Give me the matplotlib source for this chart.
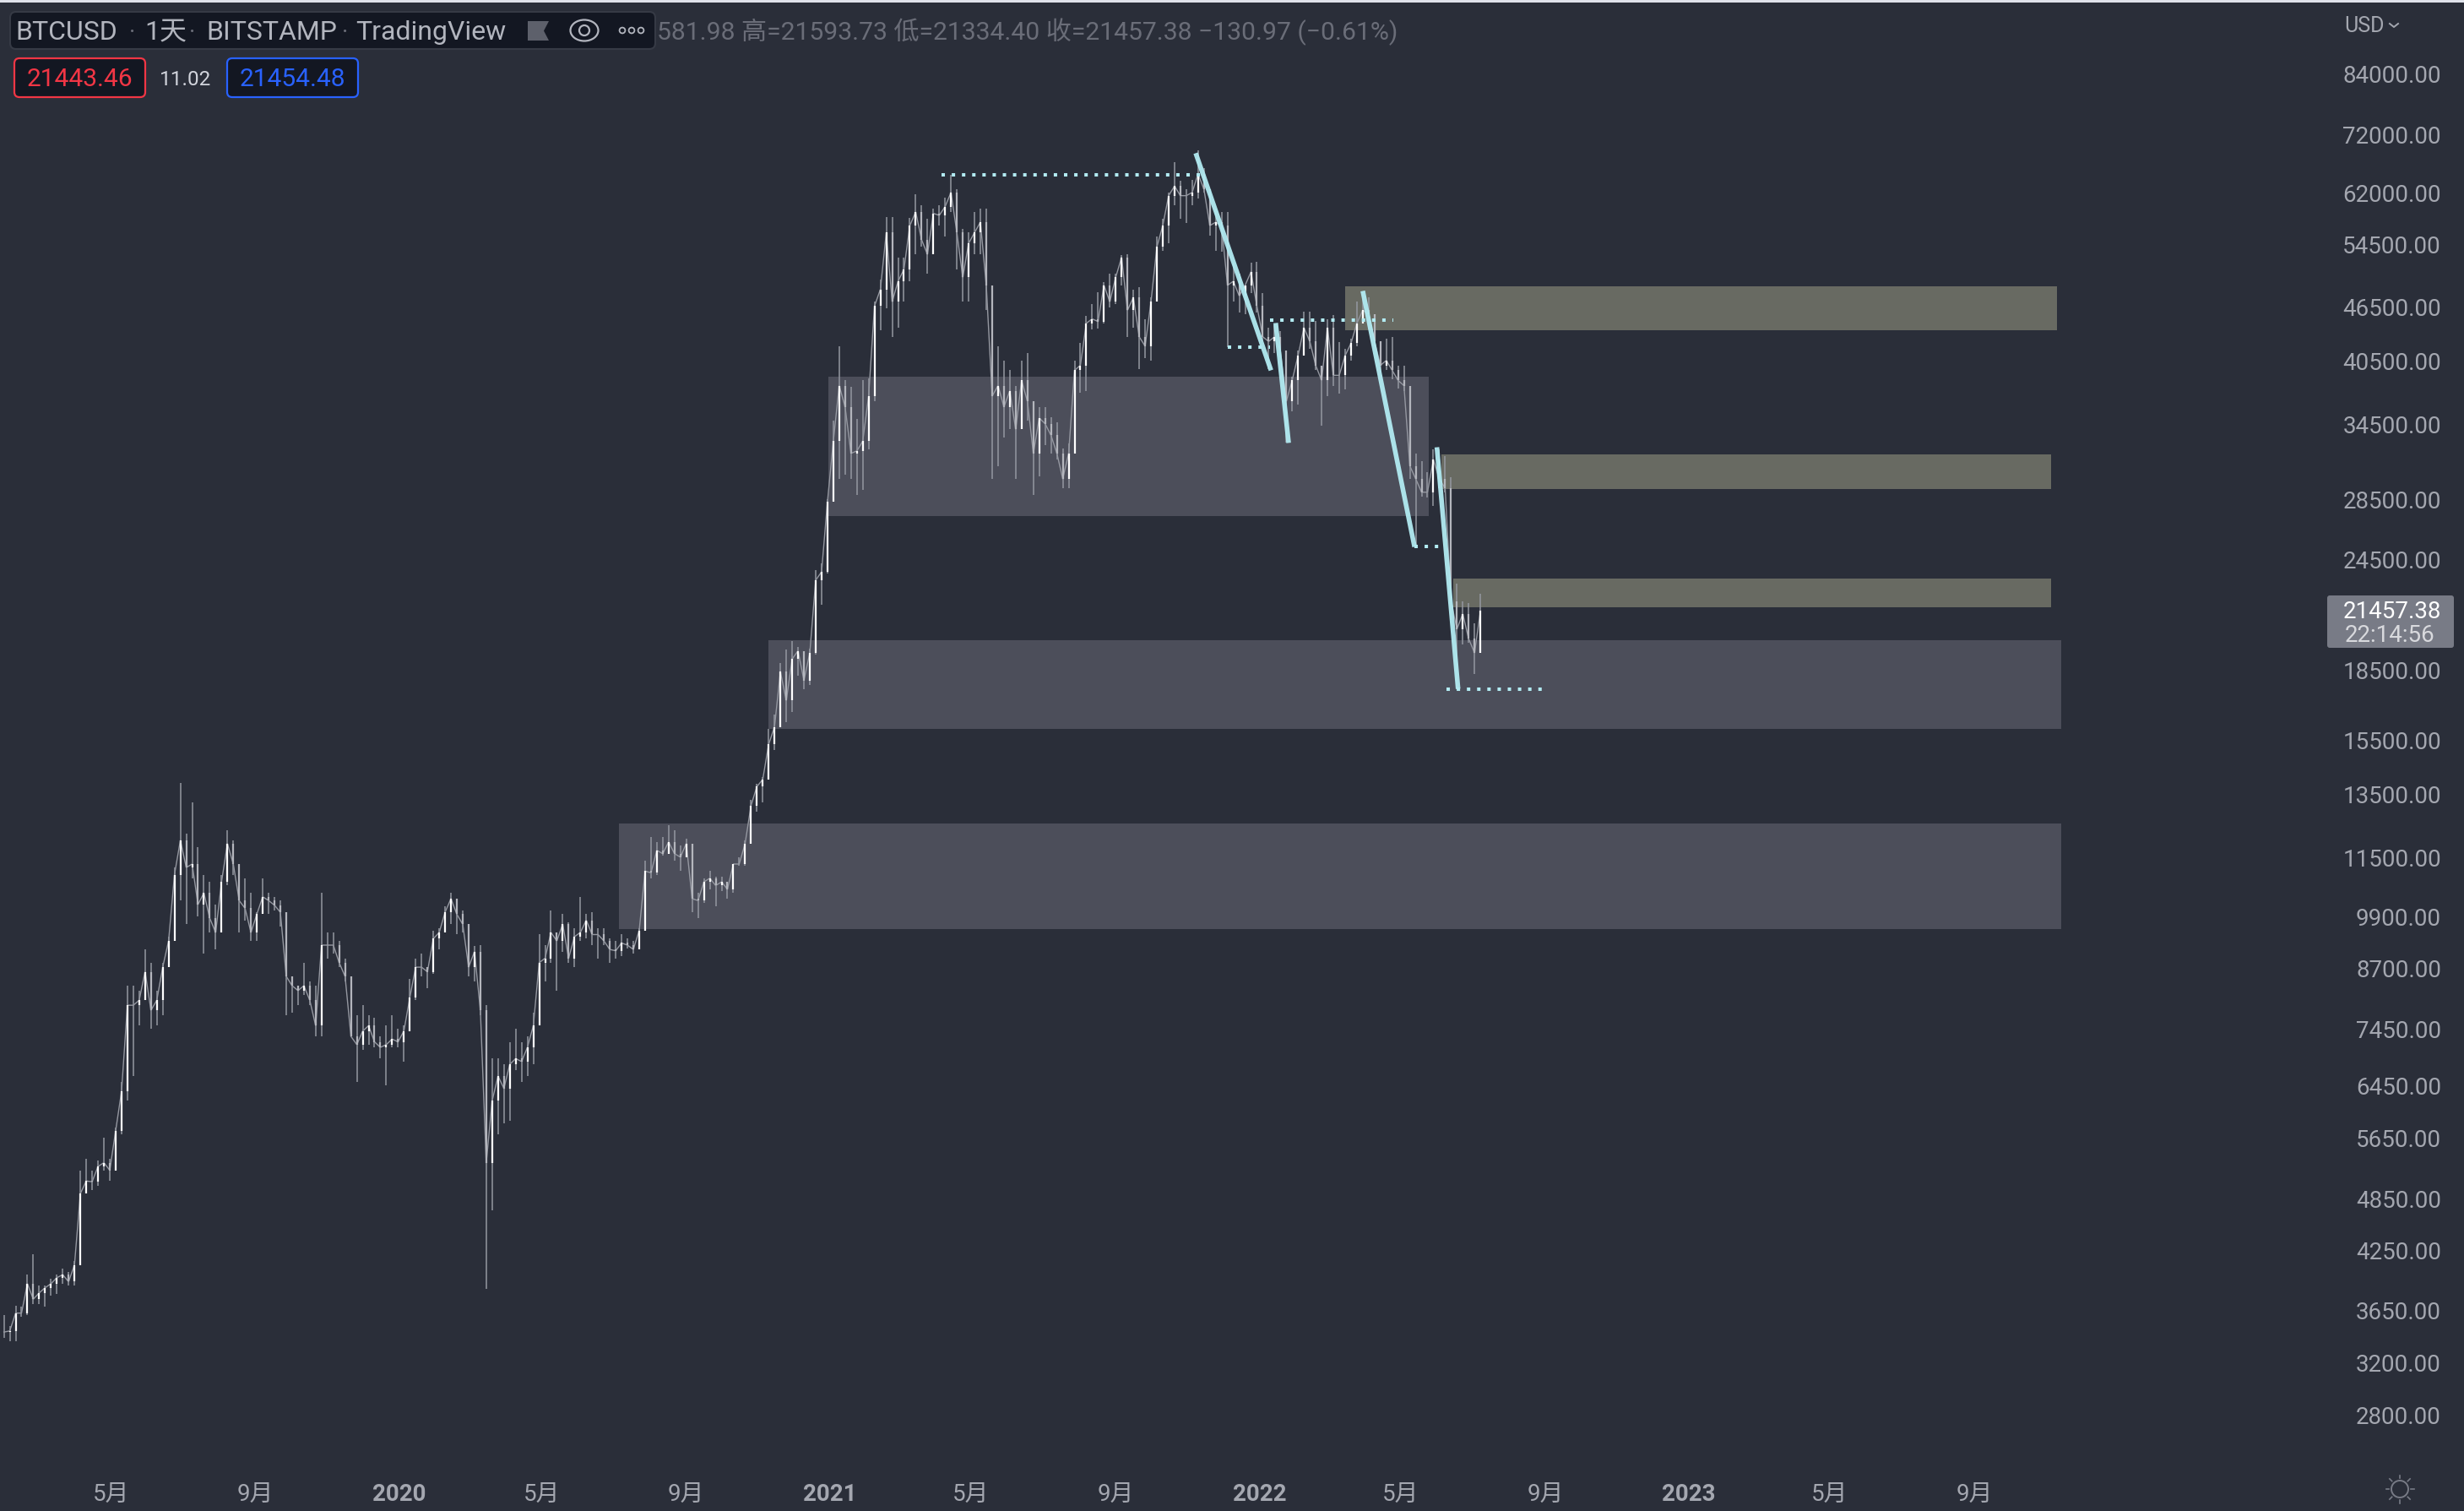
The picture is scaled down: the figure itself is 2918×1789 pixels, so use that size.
"""BTCUSD daily chart, TradingView dark theme, with hand-drawn zones and swing lines."""

import matplotlib
matplotlib.use("Agg")

import matplotlib.dates as mdates
import matplotlib.pyplot as plt
import numpy as np
import pandas as pd
from matplotlib.patches import Circle, Ellipse, FancyBboxPatch, Polygon, Rectangle

plt.rcParams["font.family"] = ["Roboto", "Noto Sans CJK SC", "DejaVu Sans"]

# 5-day bars
FIRST_BAR = "2019-01-30"
HIGH = [
    3600, 3500, 3690, 3680, 3990, 4200, 3880, 3880, 3950, 3990, 4050, 4020, 4130, 5200, 5350, 5200, 5330,
    5650, 5350, 5800, 6500, 8300, 8300, 8200, 9100, 8800, 8200, 8800, 9400, 11200, 13880, 12200, 13200,
    11800, 11000, 10800, 10200, 11000, 12300, 12000, 11000, 10900, 10500, 10000, 10900, 10500, 10400, 10300,
    10000, 8500, 8300, 8800, 8400, 8300, 10500, 9500, 9500, 9300, 8900, 8500, 7700, 7900, 7700, 7650, 7300,
    7500, 7700, 7450,
    # 2020
    7500, 8450, 8900, 9000, 8700, 9550, 9600, 10150, 10500, 10300, 10050, 9700, 9180, 9200, 7900, 6900, 6900,
    6800, 7200, 7450, 7200, 7300, 7750, 9450, 9200, 10050, 9300, 9950, 9750, 9600, 10400, 9950, 10000, 9600,
    9600, 9350, 9300, 9450, 9350, 9300, 9600, 11400, 12100, 11950, 12100, 12480, 12300, 11850, 12050, 11500,
    10500, 10900, 11100, 10950, 10950, 10700, 11300, 11500, 12000, 13300, 13850, 14100, 15900, 16500, 18800,
    19480, 19900, 19600, 19400, 19500, 23800, 24200, 28500,
    # 2021
    34800, 41950, 38500, 37900, 34900, 38500, 38700, 47000, 49700, 58300, 58300, 52600, 52600, 58100, 61700,
    60000, 58000, 59500, 60000, 61200, 64800, 62500, 56500, 56000, 59000, 59500, 59500, 45000, 42000, 40500,
    39500, 38000, 40500, 41300, 36500, 36000, 36000, 35100, 34600, 32400, 32800, 40500, 42300, 45300, 46700,
    48100, 49400, 50500, 50500, 52900, 53000, 48500, 48800, 45000, 47500, 55500, 58000, 62000, 67000, 63800,
    62500, 64000, 69000, 66000, 62000, 59500, 59000, 59000, 51900, 50500, 49000, 51900, 52000,
    # 2022
    48000, 44000, 44300, 43600, 41000, 38900, 41500, 45800, 45800, 44800, 40000, 45000, 45400, 42400, 41700,
    42800, 47000, 48200, 47500, 45500, 41500, 42800, 43000, 40000, 40000, 36500, 32000, 31400, 30500, 32300,
    32300, 31800, 30100, 23000, 22000, 21900, 20800, 22400,
]
LOW = [
    3400, 3370, 3370, 3590, 3600, 3700, 3700, 3680, 3780, 3800, 3900, 3880, 3880, 4090, 4900, 4950, 5000,
    5200, 5060, 5200, 5700, 6200, 6600, 7500, 8000, 7450, 7500, 7700, 8700, 9300, 10300, 9700, 10900,
    9900, 9000, 9500, 9100, 9500, 10700, 11000, 9500, 9800, 9300, 9300, 9950, 9950, 10050, 9650,
    7700, 7750, 7900, 8100, 7900, 7300, 7300, 8900, 9000, 8700, 8400, 7300, 6500, 7050, 7150, 7100, 6900,
    6450, 7100, 7100,
    # 2020
    6850, 7700, 8000, 8500, 8250, 8550, 9100, 9550, 9700, 9450, 9500, 8500, 8400, 7700, 3850, 4700, 5700,
    5850, 5900, 6700, 6500, 6600, 6800, 7600, 8400, 8800, 8200, 9050, 8800, 8700, 9300, 9350, 9200, 8900,
    9200, 8800, 8900, 8950, 9120, 9000, 9100, 9600, 10900, 11000, 11550, 11700, 11400, 11100, 11500, 10000,
    9850, 10250, 10600, 10150, 10550, 10350, 10500, 11250, 11250, 12700, 12900, 13200, 14400, 15100, 16300,
    16200, 16600, 18200, 17600, 17800, 19200, 21800, 23600,
    # 2021
    28800, 30000, 30300, 30000, 28800, 29200, 32300, 36500, 43700, 46200, 43000, 44000, 47000, 49500, 53000,
    54000, 50500, 53000, 57000, 55400, 59000, 51000, 47000, 47000, 53000, 53000, 46000, 30000, 31000, 33300,
    34000, 30000, 34000, 34800, 28800, 30200, 32700, 32000, 31500, 29300, 29300, 33500, 37300, 37500, 43800,
    43900, 44500, 46300, 46700, 49000, 43000, 44000, 39600, 40700, 40500, 47000, 53500, 54500, 60000, 58000,
    57400, 60000, 61000, 62000, 55600, 53500, 53300, 41900, 47000, 45700, 45500, 48000, 45700,
    # 2022
    42500, 39650, 41300, 40800, 32900, 35600, 36200, 41000, 41700, 39500, 34300, 37000, 38000, 37200, 37600,
    40500, 42000, 45000, 43800, 42000, 39300, 39500, 38600, 37700, 37500, 30000, 25400, 28700, 28600, 28000,
    29300, 29000, 21000, 17600, 19700, 19800, 18300, 19300,
]
CLOSE = [
    3450, 3460, 3620, 3620, 3900, 3750, 3810, 3860, 3900, 3960, 3990, 3920, 4090, 4900, 5060, 5050, 5250,
    5300, 5200, 5750, 6350, 7900, 7900, 8000, 8600, 7800, 8000, 8700, 9300, 11000, 12000, 11200, 11300,
    10200, 10500, 9850, 9500, 10800, 11900, 11300, 10300, 10100, 9500, 9950, 10400, 10300, 10180, 10000,
    8500, 8300, 8200, 8300, 8000, 7500, 9200, 9200, 9200, 8800, 8500, 7300, 7150, 7400, 7500, 7200, 7100,
    7150, 7250, 7200,
    # 2020
    7400, 8050, 8700, 8700, 8600, 9350, 9500, 10000, 10350, 9950, 9700, 8700, 9050, 7800, 5300, 6200, 6600,
    6400, 6800, 6900, 6850, 7100, 7500, 8800, 8900, 9500, 9300, 9700, 8900, 9400, 9500, 9800, 9450, 9450,
    9300, 9100, 9070, 9250, 9200, 9100, 9550, 11100, 11050, 11700, 11600, 11950, 11600, 11500, 11900, 10350,
    10300, 10800, 10900, 10700, 10800, 10600, 11300, 11300, 11900, 13100, 13750, 14000, 15300, 16000, 18400,
    17100, 19000, 19400, 18000, 19300, 23200, 23700, 28300,
    # 2021
    33000, 38000, 36000, 32000, 32200, 33000, 37000, 46500, 48500, 56000, 47000, 49500, 51000, 57000, 59000,
    55000, 53000, 58800, 58500, 59800, 62000, 56000, 50000, 54500, 56000, 57500, 49000, 37000, 38000, 36000,
    37500, 34000, 38500, 36500, 32000, 35000, 34500, 33500, 32000, 30000, 32000, 39500, 40000, 44500, 45000,
    44700, 49000, 47000, 50000, 52600, 46000, 47500, 43000, 42000, 47000, 54000, 57000, 61500, 63000, 61500,
    61500, 62000, 65000, 62500, 57000, 57500, 57000, 49000, 49500, 47700, 49000, 50700, 46500,
    # 2022
    43000, 42500, 43000, 41500, 36500, 38500, 41000, 44000, 42500, 40000, 38500, 44000, 39000, 39000, 41000,
    42300, 44500, 46000, 45500, 42500, 40000, 40500, 39500, 38500, 38000, 31000, 30000, 29000, 29000, 31500,
    30000, 29300, 22000, 20500, 21300, 20000, 19300, 21457,
]

# Y labels on the log price axis
Y_TICKS = [84000, 72000, 62000, 54500, 46500, 40500, 34500, 28500, 24500, 18500, 15500, 13500, 11500, 9900,
           8700, 7450, 6450, 5650, 4850, 4250, 3650, 3200, 2800]

X_TICK_DATES = ["2019-05-01", "2019-09-01", "2020-01-01", "2020-05-01", "2020-09-01", "2021-01-01", "2021-05-01",
                "2021-09-01", "2022-01-01", "2022-05-01", "2022-09-01", "2023-01-01", "2023-05-01", "2023-09-01"]
X_TICK_LABELS = ["5月", "9月", "2020", "5月", "9月", "2021", "5月", "9月", "2022", "5月", "9月", "2023", "5月", "9月"]

# Zones: (start, end, low price, high price)
GREY_ZONES = [
    ("2020-12-31", "2022-05-25", 27300, 38900),
    ("2020-11-10", "2023-11-14", 15900, 19940),
    ("2020-07-06", "2023-11-14", 9580, 12510),
]
KHAKI_ZONES = [
    ("2022-03-15", "2023-11-10", 43700, 48860),
    ("2022-06-05", "2023-11-05", 29220, 31900),
    ("2022-06-15", "2023-11-05", 21670, 23290),
]
# Swing lines: (start, start price, end, end price)
SWINGS = [
    ("2021-11-08", 68490, "2022-01-11", 39500),
    ("2022-01-15", 44530, "2022-01-26", 32860),
    ("2022-03-30", 48300, "2022-05-13", 25250),
    ("2022-06-01", 32500, "2022-06-19", 17620),
]
# Dotted levels: (start, end, price)
LEVELS = [
    ("2021-04-06", "2021-11-12", 64800),
    ("2021-12-05", "2022-01-10", 41880),
    ("2022-01-10", "2022-04-25", 44860),
    ("2022-05-13", "2022-06-07", 25290),
    ("2022-06-09", "2022-08-29", 17590),
]

BG = "#2a2e39"
PANEL = "#131722"
GREY_ZONE = "#4c4e5a"
KHAKI_ZONE = "#686a62"
CYAN = "#b2ebf2"
WICK = "#9598a1"
AXIS_TEXT = "#a4a7b0"
W, H = 2918, 1790


def d2n(s):
    return mdates.date2num(pd.Timestamp(s))


def draw_chart(ax):
    ax.set_facecolor(BG)
    ax.set_yscale("log")
    ax.set_ylim(2192, 101200)
    base = d2n("2020-01-01")
    ax.set_xlim(base - 339.3, base + 1755)

    ax.set_yticks(Y_TICKS, [f"{v:.2f}" for v in Y_TICKS])
    ax.minorticks_off()
    ax.yaxis.tick_right()
    ax.tick_params(axis="y", length=0, pad=-19.4, labelsize=20, labelcolor=AXIS_TEXT)
    for lab in ax.get_yticklabels():
        lab.set_ha("right")

    ax.set_xticks([d2n(d) for d in X_TICK_DATES], X_TICK_LABELS)
    ax.tick_params(axis="x", length=0, pad=-15, labelsize=20, labelcolor=AXIS_TEXT)
    for lab in ax.get_xticklabels():
        lab.set_va("center")
        if lab.get_text().isdigit():
            lab.set_fontweight("bold")
    for spine in ax.spines.values():
        spine.set_visible(False)

    for start, end, lo, hi in GREY_ZONES:
        ax.fill_between([d2n(start), d2n(end)], lo, hi, color=GREY_ZONE, lw=0, zorder=1)
    for start, end, lo, hi in KHAKI_ZONES:
        ax.fill_between([d2n(start), d2n(end)], lo, hi, color=KHAKI_ZONE, lw=0, zorder=1.1)

    dates = pd.date_range(FIRST_BAR, periods=len(CLOSE), freq="5D")
    xs = mdates.date2num(dates)
    close = np.array(CLOSE)
    opens = close[:-1]
    up = close[1:] >= opens
    ax.vlines(xs, LOW, HIGH, color=WICK, lw=1.1, zorder=2)
    ax.plot(xs, CLOSE, color=WICK, lw=1.0, zorder=2.5)
    # up bars read white, down bars stay grey
    ax.vlines(xs[1:][~up], opens[~up], close[1:][~up], color="#b4b6bd", lw=1.6, zorder=3)
    ax.vlines(xs[1:][up], opens[up], close[1:][up], color="white", lw=1.6, zorder=3.1)

    for x0, y0, x1, y1 in SWINGS:
        ax.plot([d2n(x0), d2n(x1)], [y0, y1], color=CYAN, lw=4, alpha=0.95,
                solid_capstyle="butt", zorder=5)
    for x0, x1, y in LEVELS:
        ax.plot([d2n(x0), d2n(x1)], [y, y], color=CYAN, lw=2.9, linestyle=(0, (1, 2)),
                dash_capstyle="butt", zorder=4)


def draw_header(ui):
    ui.add_patch(Rectangle((0, 0), W, 4, color="#dfe2ea", lw=0, zorder=1))

    # title strip
    ui.add_patch(FancyBboxPatch((12, 15), 764, 44, boxstyle="round,pad=0,rounding_size=7",
                                fc=PANEL, ec="#363a45", lw=1.5))
    title = "#b2b5be"
    for x, s in [(18, "BTCUSD"), (171, "1天"), (244, "BITSTAMP"), (421, "TradingView")]:
        ui.text(x, 38, s, color=title, fontsize=23, va="center", ha="left")
    for x in (157, 228, 409):
        ui.text(x, 38, "·", color="#6a6d78", fontsize=20, va="center", ha="center")
    ui.add_patch(Polygon([(625, 26), (650, 26), (644, 37.5), (650, 49), (625, 49)], fc="#5d606b", lw=0))
    ui.add_patch(Ellipse((692, 37), 33, 25, fc="none", ec=title, lw=1.6))
    ui.add_patch(Circle((692, 37), 6, fc="none", ec=title, lw=1.6))
    for x in (737, 748, 759):
        ui.add_patch(Circle((x, 37), 3.4, fc="none", ec=title, lw=1.3))

    ui.text(778, 38, "581.98 高=21593.73 低=21334.40 收=21457.38 −130.97 (−0.61%)",
            color="#6a6d78", fontsize=21.7, va="center", ha="left")

    # bid / ask
    for x0, x1, col, s in [(17, 172, "#f23645", "21443.46"), (269, 424, "#2962ff", "21454.48")]:
        ui.add_patch(FancyBboxPatch((x0, 70), x1 - x0, 46, boxstyle="round,pad=0,rounding_size=6",
                                    fc=PANEL, ec=col, lw=1.6))
        ui.text((x0 + x1) / 2, 94, s, color=col, fontsize=21.5, va="center", ha="center")
    ui.text(220, 94, "11.02", color="#d1d4dc", fontsize=17.5, va="center", ha="center")


def draw_price_scale(ui):
    ui.text(2776, 31, "USD", color=AXIS_TEXT, fontsize=18, va="center", ha="left")
    ui.plot([2830, 2835, 2840], [29, 33, 29], color=AXIS_TEXT, lw=1.4)

    # last price badge
    ui.add_patch(FancyBboxPatch((2756, 706), 150, 62, boxstyle="round,pad=0,rounding_size=3",
                                fc="#787b86", lw=0, zorder=4))
    ui.text(2891, 724, "21457.38", color="white", fontsize=20, va="center", ha="right", zorder=5)
    ui.text(2777, 752, "22:14:56", color="#d8d9dd", fontsize=20, va="center", ha="left", zorder=5)

    # sun icon, bottom right
    ui.add_patch(Circle((2842, 1764), 10, fc="none", ec="#787b86", lw=1.4))
    for dx, dy in [(0, -15), (0, 15), (-15, 0), (15, 0), (-11, -11), (11, -11), (-11, 11), (11, 11)]:
        ui.plot([2842 + dx * 0.85, 2842 + dx * 1.1], [1764 + dy * 0.85, 1764 + dy * 1.1], color="#787b86", lw=1.2)


def main():
    fig = plt.figure(figsize=(W / 100, H / 100), dpi=100, facecolor=BG)
    ax = fig.add_axes([0, 0, 1, 1])
    draw_chart(ax)

    # screen chrome lives on a pixel-coordinate overlay
    ui = fig.add_axes([0, 0, 1, 1], facecolor="none")
    ui.set_xlim(0, W)
    ui.set_ylim(H, 0)
    ui.axis("off")
    draw_header(ui)
    draw_price_scale(ui)

    fig.savefig("out.png", dpi=100, facecolor=BG)
    plt.close(fig)


if __name__ == "__main__":
    main()
